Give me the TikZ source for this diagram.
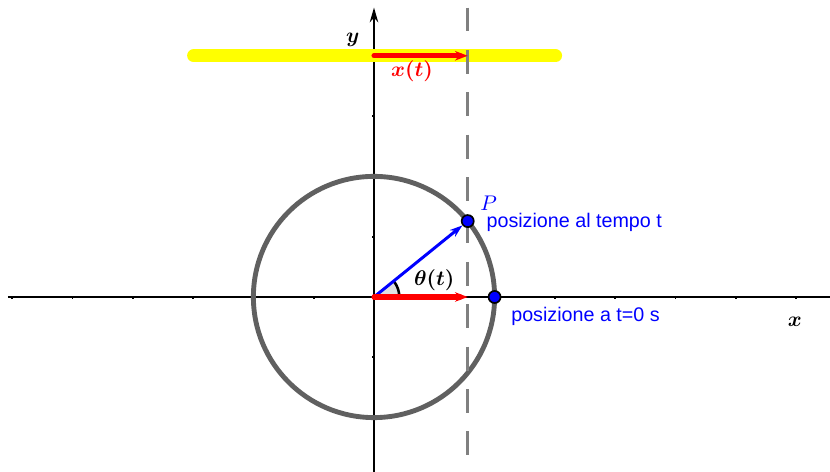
\documentclass[tikz,border=0pt]{standalone}
\usepackage{fontspec}
\newfontfamily\labelfont{Liberation Sans}
\usetikzlibrary{arrows.meta}
\definecolor{track}{HTML}{FFFF00}
\definecolor{proj}{HTML}{FF0000}
\definecolor{posblue}{HTML}{0000FF}
\definecolor{rim}{HTML}{606060}
\definecolor{guide}{HTML}{808080}

\begin{document}
\begin{tikzpicture}[x=1cm,y=1cm,
    dot/.style={circle,fill=posblue,draw=black,line width=0.8pt,inner sep=0pt,minimum size=0.2cm},
    says/.style={text=posblue,font=\labelfont\fontsize{9.3}{11}\selectfont,inner sep=0pt,anchor=west}]
    \useasboundingbox (-6.202,-2.902) rectangle (7.562,4.925);

    % axes, one tick per unit
    \draw[line width=0.9pt] (-6.07,0) -- (7.562,0);
    \draw[line width=0.9pt,-{Stealth[length=7pt,width=4pt]}] (0,-2.902) -- (0,4.8);
    \foreach \k in {-6,...,-1,1,2,...,7}{
      \draw[line width=0.8pt] (\k,0) -- (\k,-0.04);}
    \foreach \k in {-2,-1,1,2,3,4}{
      \draw[line width=0.8pt] (0,\k) -- (-0.04,\k);}
    \node[font=\boldmath] (ylab) at (-0.35,4.26) {$y$};
    \node[font=\boldmath] (xlab) at (6.98,-0.41) {$x$};

    % the projection track
    \draw[track,line width=6.2pt,line cap=round] (-2.99,4) -- (3.01,4);

    % circle and the two positions
    \coordinate (O) at (0,0);
    \draw[rim,line width=2.3pt] (O) circle (2);
    \draw[guide,line width=1.4pt,dash pattern=on 11.3pt off 8.7pt]
      (1.554,4.8) -- (1.554,-2.902);
    \coordinate (H) at (1.554,0);
    \coordinate (Htop) at (1.554,4);
    \coordinate (Otop) at (0,4);

    \fill[black!12] (O) -- (0.42,0) arc (0:39:0.42) -- cycle;
    \draw[line width=1.2pt] (0.42,0) arc (0:39:0.42);

    \node[dot] (P) at (39:2) {};
    \node[dot] (A) at (2,0) {};
    \draw[posblue,line width=1.4pt,-{Stealth[length=6pt,width=4pt]}] (O) -- (P);
    \draw[proj,line width=2.4pt,line cap=round,-{Stealth[length=6pt,width=4.5pt]}] (O) -- (H);
    \draw[proj,line width=2.4pt,line cap=round,-{Stealth[length=6pt,width=4.5pt]}] (Otop) -- (Htop);

    % labels
    \node[font=\boldmath,text=proj] (xt) at (0.63,3.74) {$x(t)$};
    \node[font=\boldmath] (theta) at (1.0,0.28) {$\theta(t)$};
    \node[text=posblue,inner sep=0pt] (Plab) at (1.9,1.55) {$P$};
    \node[says] (now) at (1.86,1.24) {posizione al tempo t};
    \node[says] (start) at (2.27,-0.32) {posizione a t=0 s};
  \end{tikzpicture}
\end{document}
